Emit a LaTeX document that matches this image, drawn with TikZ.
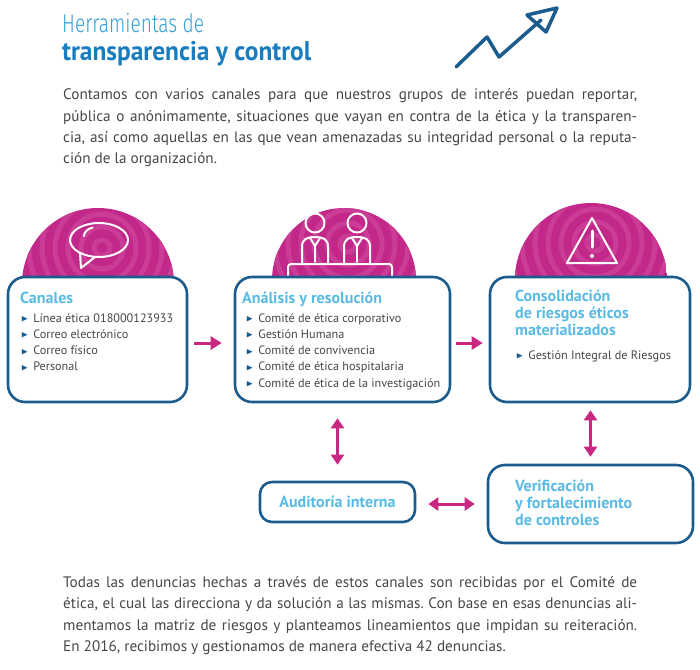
\documentclass[tikz,border=0pt]{standalone}
\usepackage{fontspec}
\usepackage{amssymb}
\usepackage{graphicx}
\setmainfont{PT Sans}
\newfontfamily\thinfont{Fira Sans Light}
\usetikzlibrary{arrows.meta}
\frenchspacing

\definecolor{boxblue}{RGB}{27,92,140}
\definecolor{titleblue}{RGB}{88,187,230}
\definecolor{headlight}{RGB}{52,160,216}
\definecolor{headbold}{RGB}{24,124,190}
\definecolor{linkpink}{RGB}{200,40,130}
\definecolor{dome}{RGB}{194,40,138}
\definecolor{domering}{RGB}{202,60,149}
\definecolor{bodygray}{RGB}{70,70,70}

\newcommand{\pointer}{\textcolor{boxblue}{\raisebox{0.6pt}{\scalebox{0.75}{$\blacktriangleright$}}}\hspace{5pt}}

\tikzset{
  stagebox/.style={draw=boxblue, line width=2.6pt, rounded corners=17pt, fill=white, inner sep=0pt},
  stagetitle/.style={text=titleblue, font=\bfseries\fontsize{16}{18}\selectfont, anchor=base west, inner sep=0pt},
  itemtext/.style={text=bodygray, font=\fontsize{12.2}{15}\selectfont, anchor=base west, inner sep=0pt},
  bodyline/.style={text=bodygray, font=\fontsize{15.2}{21}\selectfont, anchor=base west, inner sep=0pt},
  linkarrow/.style={linkpink, line width=3pt, -{Triangle[length=11pt,width=13pt]}},
  bothway/.style={linkpink, line width=3pt, {Triangle[length=10pt,width=13pt]}-{Triangle[length=10pt,width=13pt]}},
  icon/.style={white, line width=2pt, line join=round, line cap=round},
}

\begin{document}
\begin{tikzpicture}[x=1pt, y=-1pt]
\useasboundingbox (0,0) rectangle (700,669);

% heading
\node[anchor=base west, inner sep=0pt, text=headlight, font=\thinfont\fontsize{25.5}{30}\selectfont] (headA) at (62,33) {\scalebox{0.75}[1]{Herramientas de}};
\node[anchor=base west, inner sep=0pt, text=headbold, font=\bfseries\fontsize{27}{30}\selectfont] (headB) at (62,60) {\scalebox{0.94}[1]{transparencia y control}};
\draw[boxblue, line width=3.5pt, line cap=round, line join=round] (456,67) -- (487,37) -- (499,57) -- (541,20);
\draw[boxblue, line width=3.5pt, line join=round] (527,15) -- (557,8) -- (546,32) -- cycle;

\node[bodyline] (introA) at (63,99) {\makebox[574pt][s]{Contamos con varios canales para que nuestros grupos de interés puedan reportar,}};
\node[bodyline] (introB) at (63,121) {\makebox[574pt][s]{pública o anónimamente, situaciones que vayan en contra de la ética y la transparen-}};
\node[bodyline] (introC) at (63,142) {\makebox[574pt][s]{cia, así como aquellas en las que vean amenazadas su integridad personal o la reputa-}};
\node[bodyline] (introD) at (63,163) {ción de la organización.};

% domes
\foreach \cx/\cy/\rr in {98/284/76, 344/280/72, 591/279/76} {
  \begin{scope}
    \clip ({\cx-\rr},\cy) arc (180:360:\rr) -- cycle;
    \fill[dome] ({\cx-\rr},\cy) rectangle ({\cx+\rr},{\cy-\rr});
    \foreach \r in {8,21,...,115}
      \draw[domering, line width=5pt] ({\cx+4},{\cy-36}) circle (\r);
  \end{scope}
}

% icons
\draw[icon] (99,240) ellipse (29 and 17);
\draw[icon] (80,253) -- (81,268) -- (95,257);
\draw[icon] (84,236) arc (180:250:13 and 9);
\foreach \px in {315,357} {
  \draw[icon] (\px,223) circle (9.5);
  \draw[icon] ({\px-13},264) -- ({\px-13},247) .. controls ({\px-13},239) and ({\px-8},237) .. (\px,237)
    .. controls ({\px+8},237) and ({\px+13},239) .. ({\px+13},247) -- ({\px+13},264);
  \draw[icon] ({\px-5},238) -- (\px,246) -- ({\px+5},238);
  \draw[icon] (\px,246) -- (\px,262);
}
\draw[icon, rounded corners=3pt] (288,285) -- (288,264) -- (392,264) -- (392,285);
\draw[icon] (592,218) -- (567,263) -- (617,263) -- cycle;
\draw[icon, line width=3pt] (592,231) -- (592,247);
\fill[white] (592,256) circle (2);

% stages
\node[stagebox, minimum width=179pt, minimum height=125pt] (canales) at (97.5,339.5) {};
\node[stagebox, minimum width=215pt, minimum height=125pt] (analisis) at (342.5,339.5) {};
\node[stagebox, minimum width=200pt, minimum height=125pt] (consol) at (590,339.5) {};
\node[stagebox, rounded corners=12pt, minimum width=155pt, minimum height=40pt] (audit) at (337.5,502) {};
\node[stagebox, minimum width=205pt, minimum height=78pt] (verif) at (590.5,504) {};

\node[stagetitle] (canalesT) at (20,303) {Canales};
\foreach \txt [count=\i] in {Línea ética 018000123933, Correo electrónico, Correo físico, Personal}
  \node[itemtext] (canal\i) at (21,{322+16.3*(\i-1)}) {\pointer\txt};

\node[stagetitle] (analisisT) at (242,303) {Análisis y resolución};
\foreach \txt [count=\i] in {Comité de ética corporativo, Gestión Humana, Comité de convivencia, Comité de ética hospitalaria, Comité de ética de la investigación}
  \node[itemtext] (comite\i) at (246,{322+16.3*(\i-1)}) {\pointer\txt};

\node[stagetitle, align=left, anchor=north west] (consolT) at (515,290) {Consolidación\\[-1pt] de riesgos éticos\\[-1pt] materializados};
\node[itemtext] (riesgo1) at (516,359) {\pointer Gestión Integral de Riesgos};

\node[stagetitle, anchor=center] (auditT) at (audit) {Auditoría interna};
\node[stagetitle, align=left, anchor=north west] (verifT) at (515,480) {Verificación\\[-1pt] y fortalecimiento\\[-1pt] de controles};

% links
\draw[linkarrow, shorten <=6pt, shorten >=12pt] ([yshift=-3.5pt]canales.east) -- ([yshift=-3.5pt]analisis.west);
\draw[linkarrow, shorten <=5pt, shorten >=6pt] ([yshift=-3.5pt]analisis.east) -- ([yshift=-3.5pt]consol.west);
\draw[bothway, shorten <=15pt, shorten >=16pt] (analisis.south -| audit.north) -- (audit.north);
\draw[bothway, shorten <=7pt, shorten >=7pt] (consol.south -| verif.north) -- (verif.north);
\draw[bothway, shorten <=12pt, shorten >=12pt] ([yshift=-2pt]audit.east) -- ([yshift=-2pt]audit.east -| verif.west);

\node[bodyline] (closeA) at (63,587) {\makebox[574pt][s]{Todas las denuncias hechas a través de estos canales son recibidas por el Comité de}};
\node[bodyline] (closeB) at (63,608) {\makebox[574pt][s]{ética, el cual las direcciona y da solución a las mismas. Con base en esas denuncias ali-}};
\node[bodyline] (closeC) at (63,630) {\makebox[574pt][s]{mentamos la matriz de riesgos y planteamos lineamientos que impidan su reiteración.}};
\node[bodyline] (closeD) at (63,651) {En 2016, recibimos y gestionamos de manera efectiva 42 denuncias.};
\end{tikzpicture}
\end{document}
